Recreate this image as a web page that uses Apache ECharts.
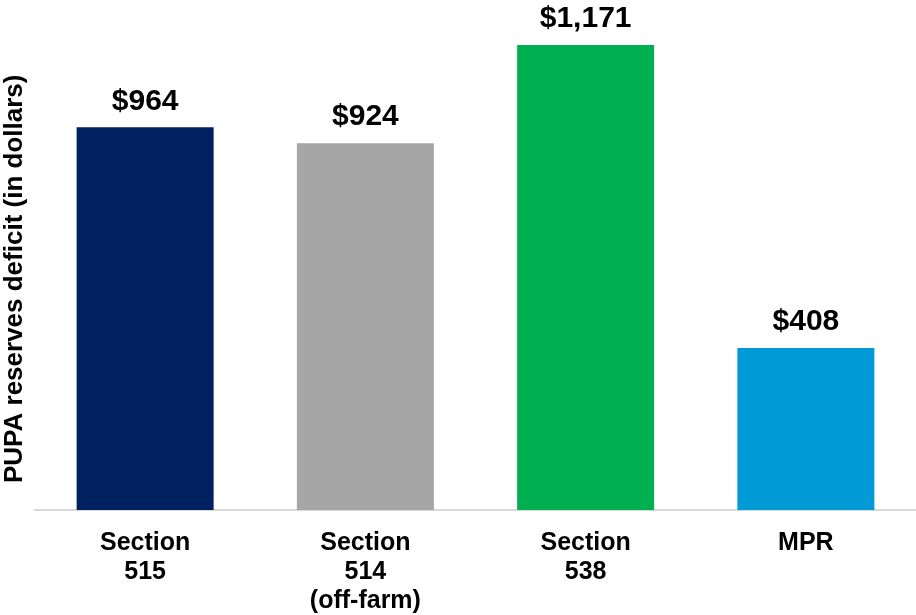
<!DOCTYPE html>
<html>
<head>
<meta charset="utf-8">
<script src="https://cdn.jsdelivr.net/npm/echarts@6/dist/echarts.min.js"></script>
<style>
  html, body { margin: 0; padding: 0; background: #ffffff; }
  #chart { width: 916px; height: 615px; }
</style>
</head>
<body>
<div id="chart"></div>
<script>
// Programs compared on PUPA reserves deficit
const categories = ['Section\n515', 'Section\n514\n(off-farm)', 'Section\n538', 'MPR'];
const deficits = [964, 924, 1171, 408];
const barColors = ['#002060', '#a6a6a6', '#00b050', '#009bd6'];
const axisTitle = 'PUPA reserves deficit (in dollars)';

const fontFamily = '"Liberation Sans", Arial, sans-serif';

const chart = echarts.init(document.getElementById('chart'), null, { renderer: 'canvas' });

chart.setOption({
  animation: false,
  backgroundColor: '#ffffff',
  grid: { left: 35, right: 0, top: 33.6, bottom: 105, containLabel: false, outerBoundsMode: 'none' },
  xAxis: {
    type: 'category',
    data: categories,
    axisLine: { show: true, lineStyle: { color: '#d9d9d9', width: 2 } },
    axisTick: { show: false },
    axisLabel: {
      interval: 0,
      margin: 19,
      fontFamily: fontFamily,
      fontWeight: 'bold',
      fontSize: 25,
      lineHeight: 29,
      color: '#000000'
    }
  },
  yAxis: {
    type: 'value',
    min: 0,
    max: 1200,
    axisLine: { show: false },
    axisTick: { show: false },
    axisLabel: { show: false },
    splitLine: { show: false },
    name: axisTitle,
    nameLocation: 'middle',
    nameGap: 7,
    nameTextStyle: {
      fontFamily: fontFamily,
      fontWeight: 'bold',
      fontSize: 26,
      color: '#000000',
      padding: [0, 14, 0, 0]
    }
  },
  series: [{
    type: 'bar',
    barWidth: 137,
    data: deficits.map((v, i) => ({ value: v, itemStyle: { color: barColors[i] } })),
    label: {
      show: true,
      position: 'top',
      distance: 11,
      fontFamily: fontFamily,
      fontWeight: 'bold',
      fontSize: 30,
      color: '#000000',
      formatter: p => '$' + p.value.toLocaleString('en-US')
    }
  }]
});
</script>
</body>
</html>
